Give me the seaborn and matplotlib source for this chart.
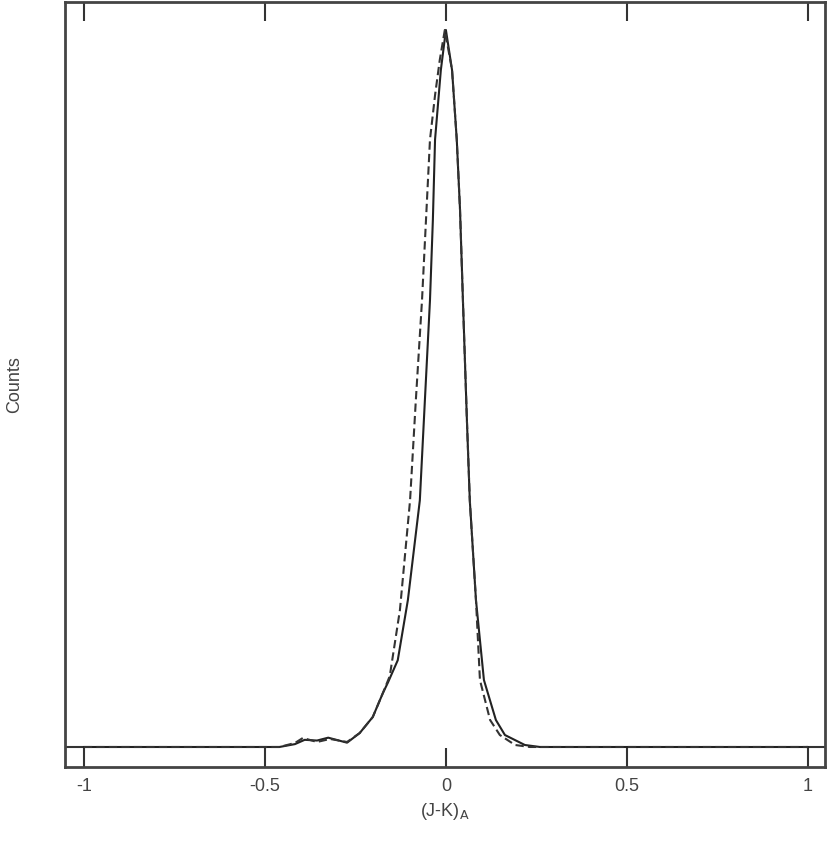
import matplotlib
matplotlib.use("Agg")
import matplotlib.pyplot as plt
import seaborn as sns
import pandas as pd

# Curve A (dashed)
x_a = [-1.0, -0.46, -0.417, -0.395, -0.356, -0.32, -0.273, -0.238, -0.202, -0.174,
       -0.155, -0.127, -0.099, -0.083, -0.066, -0.055, -0.044, -0.03, -0.017, -0.003,
       0.017, 0.03, 0.039, 0.047, 0.058, 0.066, 0.083, 0.094, 0.122, 0.149, 0.191, 0.232, 1.0]
y_a = [0, 0, 5.6, 12.6, 7, 11.2, 7, 19.5, 41.8, 75.3,
       99, 191, 344, 484, 623, 735, 847, 909, 958, 1000,
       944, 847, 749, 623, 456, 344, 205, 93.4, 37.7, 16.7, 2.8, 0, 0]

# Curve B (solid)
x_b = [-1.0, -0.46, -0.417, -0.39, -0.356, -0.325, -0.273, -0.238, -0.202, -0.174,
       -0.16, -0.133, -0.105, -0.072, -0.058, -0.044, -0.036, -0.03, -0.014, 0.0,
       0.017, 0.03, 0.039, 0.047, 0.058, 0.066, 0.083, 0.105, 0.138, 0.163, 0.218, 0.26, 1.0]
y_b = [0, 0, 4, 10, 9, 13, 6, 19.5, 41.8, 75.3,
       90, 121, 205, 344, 484, 623, 735, 847, 944, 1000,
       944, 847, 749, 623, 456, 344, 205, 93.4, 37.7, 16.7, 2.8, 0, 0]

x_ticks = [-1, -0.5, 0, 0.5, 1]
x_tick_labels = ["-1", "-0.5", "0", "0.5", "1"]

sns.set_style("white")
plt.rcParams['font.family'] = ['Liberation Sans', 'DejaVu Sans']

fig = plt.figure(figsize=(8.30, 8.44), dpi=100)
ax = fig.add_axes([65/830, 1 - 767/844, 760/830, 765/844])

df_a = pd.DataFrame({"x": x_a, "y": y_a})
df_b = pd.DataFrame({"x": x_b, "y": y_b})
sns.lineplot(data=df_b, x="x", y="y", ax=ax, color="#222222", linewidth=1.5,
             estimator=None, sort=False)
sns.lineplot(data=df_a, x="x", y="y", ax=ax, color="#333333", linewidth=1.5,
             estimator=None, sort=False, linestyle=(0, (4, 2)))

ax.set_xlim(-1.052, 1.047)
ax.set_ylim(-27.9, 1039)
ax.set_xticks(x_ticks)
ax.set_xticklabels(x_tick_labels)
ax.set_yticks([0])
ax.set_yticklabels([])
ax.tick_params(direction="in", length=14, width=1.5, color="#333333",
               top=True, right=True, bottom=True, left=True,
               labelsize=13, labelcolor="#444444", pad=8)
for s in ax.spines.values():
    s.set_visible(True)
    s.set_color("#444444")
    s.set_linewidth(2)

ax.set_xlabel(r"(J-K)$_\mathrm{A}$", fontsize=13, color="#444444", labelpad=4)
ax.set_ylabel("Counts", fontsize=13, color="#444444")
ax.yaxis.set_label_coords(-0.055, 0.5)

fig.savefig("out.png", dpi=100)
